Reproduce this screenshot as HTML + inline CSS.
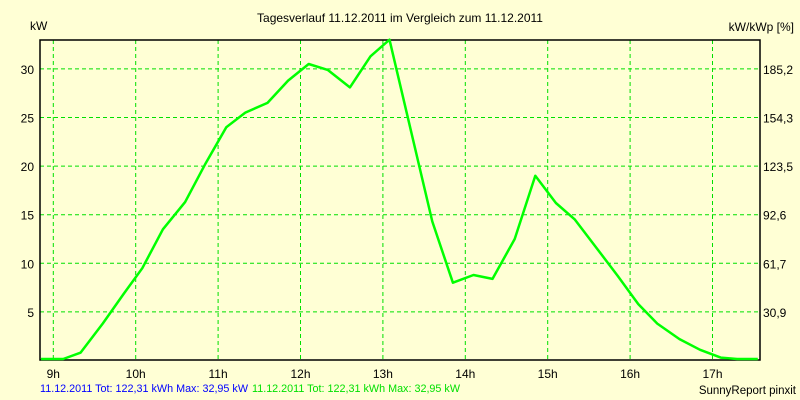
<!DOCTYPE html>
<html><head><meta charset="utf-8"><style>
body{margin:0;background:#ffffd5;}
svg{display:block;font-family:"Liberation Sans",sans-serif;font-size:12px;}
</style></head><body>
<svg id="chart" width="800" height="400" xmlns="http://www.w3.org/2000/svg">
<rect width="800" height="400" fill="#ffffd5"/>
<text x="400" y="22" text-anchor="middle" fill="#000">Tagesverlauf 11.12.2011 im Vergleich zum 11.12.2011</text>
<text x="30" y="30" fill="#000">kW</text>
<text x="794" y="31" text-anchor="end" fill="#000">kW/kWp [%]</text>
<g id="grid"></g>
<g id="axes"></g>
<g id="series"></g>
<text x="40" y="392" fill="#0000ff" font-size="11" textLength="208" lengthAdjust="spacingAndGlyphs">11.12.2011 Tot: 122,31 kWh Max: 32,95 kW</text>
<text x="252" y="392" fill="#00e000" font-size="11" textLength="208" lengthAdjust="spacingAndGlyphs">11.12.2011 Tot: 122,31 kWh Max: 32,95 kW</text>
<text x="796" y="394" text-anchor="end" fill="#000" font-size="11.5">SunnyReport pinxit</text>
</svg>
<script>
const hourTicks=[9,10,11,12,13,14,15,16,17];
const kwTicks=[5,10,15,20,25,30];
const pctLabels=["30,9","61,7","92,6","123,5","154,3","185,2"];
const times=[8.85,9.12,9.33,9.6,9.85,10.08,10.33,10.6,10.85,11.1,11.33,11.6,11.85,12.1,12.33,12.6,12.85,13.08,13.33,13.6,13.85,14.1,14.33,14.6,14.85,15.1,15.33,15.6,15.85,16.1,16.33,16.6,16.85,17.1,17.3,17.55];
const power=[0,0,0.8,3.8,6.8,9.5,13.5,16.3,20.3,24,25.5,26.5,28.8,30.5,29.9,28.1,31.3,33,24,14.3,8,8.8,8.4,12.5,19,16.2,14.5,11.5,8.7,5.8,3.8,2.2,1.1,0.3,0.05,0];
const L=40,R=760,T=40,B=360;
const xs=h=>53.3+(h-9)*82.4;
const ys=v=>360.5-v*9.72;
const NS="http://www.w3.org/2000/svg";
function mk(tag,attrs,parent){const e=document.createElementNS(NS,tag);for(const k in attrs)e.setAttribute(k,attrs[k]);parent.appendChild(e);return e;}
const grid=document.getElementById('grid'),axes=document.getElementById('axes'),series=document.getElementById('series');
hourTicks.forEach(h=>{
 const l=mk('line',{x1:xs(h),x2:xs(h),y1:T,y2:B,stroke:'#00e000','stroke-dasharray':'4,3'},grid);
 
 
 const t=mk('text',{x:xs(h),y:378,'text-anchor':'middle',fill:'#000'},axes);
 t.textContent=h+'h';
 
 
});
kwTicks.forEach((v,i)=>{
 const l=mk('line',{x1:L,x2:R,y1:ys(v),y2:ys(v),stroke:'#00e000','stroke-dasharray':'4,3'},grid);
 
 
 const t=mk('text',{x:34,y:ys(v)+5,'text-anchor':'end',fill:'#000'},axes);
 t.textContent=v;
 
 
 const t2=mk('text',{x:763,y:ys(v)+5,fill:'#000'},axes);
 t2.textContent=pctLabels[i];
 
 
});
const fr=mk('rect',{x:L,y:T,width:R-L,height:B-T,fill:'none',stroke:'#000','stroke-width':1.5},axes);


const pts=times.map((h,i)=>xs(h).toFixed(1)+','+Math.min(359,ys(power[i])).toFixed(1)).join(' ');
const pl=mk('polyline',{points:pts,fill:'none',stroke:'#00ff00','stroke-width':2.5,'stroke-linejoin':'round'},series);


</script>
</body></html>
